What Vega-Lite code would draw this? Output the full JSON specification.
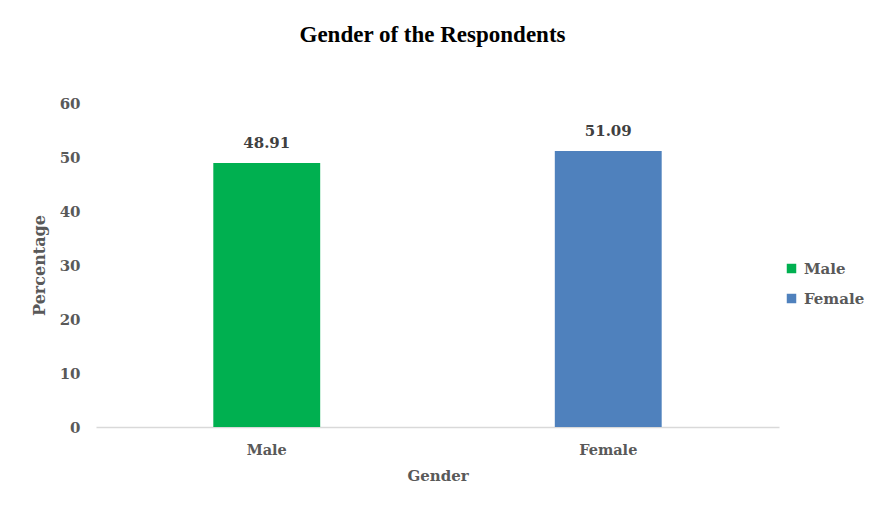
{
  "$schema": "https://vega.github.io/schema/vega-lite/v6.json",
  "width": 683,
  "height": 324,
  "autosize": {"type": "none"},
  "padding": {"left": 96, "top": 103, "right": 97, "bottom": 91},
  "background": "#ffffff",
  "title": {
    "text": "Gender of the Respondents",
    "font": "Liberation Serif",
    "fontSize": 23,
    "fontWeight": "bold",
    "color": "#000000",
    "anchor": "middle",
    "dx": -5,
    "offset": 49
  },
  "data": {
    "values": [
      {"gender": "Male", "percentage": 48.91},
      {"gender": "Female", "percentage": 51.09}
    ]
  },
  "config": {
    "view": {"stroke": null},
    "axis": {
      "labelFont": "DejaVu Serif",
      "labelFontWeight": "bold",
      "labelColor": "#595959",
      "titleFont": "DejaVu Serif",
      "titleFontWeight": "bold",
      "titleColor": "#595959",
      "ticks": false,
      "grid": false
    }
  },
  "encoding": {
    "x": {
      "field": "gender",
      "type": "nominal",
      "sort": ["Male", "Female"],
      "scale": {"paddingInner": 0.687, "paddingOuter": 0.3435},
      "axis": {
        "title": "Gender",
        "labelAngle": 0,
        "labelFontSize": 14.5,
        "labelPadding": 16,
        "titleFontSize": 15,
        "titlePadding": 12,
        "domainColor": "#d9d9d9",
        "domainWidth": 1.5
      }
    },
    "y": {
      "field": "percentage",
      "type": "quantitative",
      "scale": {"domain": [0, 60]},
      "axis": {
        "title": "Percentage",
        "values": [0, 10, 20, 30, 40, 50, 60],
        "domain": false,
        "labelFontSize": 15,
        "labelPadding": 16,
        "titleFontSize": 16,
        "titlePadding": 12
      }
    }
  },
  "layer": [
    {
      "mark": {"type": "bar"},
      "encoding": {
        "color": {
          "field": "gender",
          "type": "nominal",
          "sort": ["Male", "Female"],
          "scale": {"domain": ["Male", "Female"], "range": ["#00B050", "#4F81BD"]},
          "legend": {
            "title": null,
            "orient": "none",
            "legendX": 688,
            "legendY": 158,
            "symbolType": "square",
            "symbolSize": 90,
            "symbolStrokeWidth": 0,
            "labelFont": "DejaVu Serif",
            "labelFontWeight": "bold",
            "labelFontSize": 15,
            "labelColor": "#595959",
            "labelOffset": 5,
            "rowPadding": 14
          }
        }
      }
    },
    {
      "mark": {
        "type": "text",
        "baseline": "bottom",
        "dy": -12,
        "font": "DejaVu Serif",
        "fontWeight": "bold",
        "fontSize": 15,
        "color": "#404040"
      },
      "encoding": {
        "text": {"field": "percentage", "type": "quantitative", "format": ".2f"}
      }
    }
  ]
}
